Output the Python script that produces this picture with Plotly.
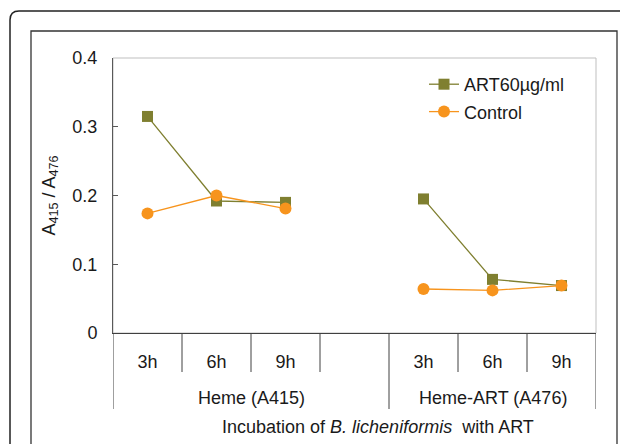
import plotly.graph_objects as go

# ---------------- data ----------------
groups = ["Heme (A415)", "Heme-ART (A476)"]
times = ["3h", "6h", "9h"]
art_heme = [0.315, 0.192, 0.190]
art_hemeart = [0.195, 0.078, 0.069]
ctrl_heme = [0.174, 0.200, 0.181]
ctrl_hemeart = [0.064, 0.062, 0.069]
y_ticks = [0, 0.1, 0.2, 0.3, 0.4]
y_ticklabels = ["0", "0.1", "0.2", "0.3", "0.4"]

# category slots: group1 times, an empty gap slot, group2 times
cats = [groups[0] + "|" + t for t in times] + ["gap"] + [groups[1] + "|" + t for t in times]
label_cats = [c for c in cats if c != "gap"]
label_text = times + times
art_vals = art_heme + [None] + art_hemeart
ctrl_vals = ctrl_heme + [None] + ctrl_hemeart

# ---------------- geometry helpers ----------------
# the page body has an 8px margin, so the figure sits 8px in from the window corner
O = 8
W, H = 628 - O, 444 - O
# plot area in window pixels
L, R, T, B = 113, 596, 58, 333
PW, PH = R - L, B - T


def px(x):
    return (x - L) / PW


def py(y):
    return (B - y) / PH


FONT = "Liberation Sans, Arial, sans-serif"
FS = 18
TXT = "#1a1a1a"
OLIVE = "#7F7F30"
ORANGE = "#F7941D"

fig = go.Figure()
fig.add_trace(go.Scatter(
    x=cats, y=art_vals, name="ART60µg/ml", mode="lines+markers",
    line=dict(color=OLIVE, width=1.3),
    marker=dict(symbol="square", size=11, color=OLIVE),
    connectgaps=False, legendgroup="a",
))
fig.add_trace(go.Scatter(
    x=cats, y=ctrl_vals, name="Control", mode="lines+markers",
    line=dict(color=ORANGE, width=1.3),
    marker=dict(symbol="circle", size=12, color=ORANGE),
    connectgaps=False, legendgroup="b",
))

shapes = []


def rounded_path(x0, y0, x1, y1, r):
    pts = [
        ("M", [(x0, y0 + r)]),
        ("Q", [(x0, y0), (x0 + r, y0)]),
        ("L", [(x1 - r, y0)]),
        ("Q", [(x1, y0), (x1, y0 + r)]),
        ("L", [(x1, y1 - r)]),
        ("Q", [(x1, y1), (x1 - r, y1)]),
        ("L", [(x0 + r, y1)]),
        ("Q", [(x0, y1), (x0, y1 - r)]),
    ]
    s = ""
    for cmd, ps in pts:
        s += cmd + " " + " ".join(f"{px(a):.5f},{py(b):.5f}" for a, b in ps) + " "
    return s + "Z"


# outer rounded frame
shapes.append(dict(type="path", xref="paper", yref="paper",
                   path=rounded_path(10, 11, 629, 470, 9),
                   line=dict(color="#222222", width=1.5)))
# inner frame
shapes.append(dict(type="rect", xref="paper", yref="paper",
                   x0=px(31), y0=py(470), x1=px(617), y1=py(31),
                   line=dict(color="#333333", width=1.3)))
# plot area border (light gray)
shapes.append(dict(type="rect", xref="paper", yref="paper",
                   x0=0, y0=0, x1=1, y1=1, layer="below",
                   line=dict(color="#BFBFBF", width=1)))

# category dividers
n = len(cats)
gap_idx = cats.index("gap")
long_bounds = [-0.5, gap_idx + 0.5, n - 0.5]
for i in range(n + 1):
    b = i - 0.5
    is_long = b in long_bounds
    shapes.append(dict(type="line", xref="x", yref="paper",
                       x0=b, x1=b, y0=0, y1=py(409 if is_long else 372),
                       line=dict(color="#404040", width=1)))

annotations = []
# group labels
annotations.append(dict(x=(-0.5 + gap_idx + 0.5) / 2, y=py(398), xref="x", yref="paper",
                        text=groups[0], showarrow=False, yanchor="middle",
                        font=dict(family=FONT, size=FS, color=TXT)))
annotations.append(dict(x=(gap_idx + 0.5 + n - 0.5) / 2, y=py(398), xref="x", yref="paper",
                        text=groups[1], showarrow=False, yanchor="middle",
                        font=dict(family=FONT, size=FS, color=TXT)))
# x title
annotations.append(dict(x=px(378), y=py(427), xref="paper", yref="paper",
                        text="Incubation of <i>B. licheniformis</i>\u00a0 with ART",
                        showarrow=False, yanchor="middle", xanchor="center",
                        font=dict(family=FONT, size=FS, color=TXT)))
# y title
annotations.append(dict(x=px(50), y=0.5, xref="paper", yref="paper",
                        text="A<sub>415</sub> / A<sub>476</sub>", textangle=-90,
                        showarrow=False, xanchor="center", yanchor="middle",
                        font=dict(family=FONT, size=FS, color=TXT)))

fig.update_layout(
    width=W, height=H, autosize=False,
    margin=dict(l=L - O, r=W - (R - O), t=T - O, b=H - (B - O), pad=0),
    paper_bgcolor="white", plot_bgcolor="white",
    font=dict(family=FONT, size=FS, color=TXT),
    showlegend=True,
    legend=dict(x=px(424), y=py(66), xanchor="left", yanchor="top",
                bgcolor="rgba(0,0,0,0)", font=dict(family=FONT, size=FS, color=TXT),
                traceorder="grouped", tracegroupgap=1),
    shapes=shapes, annotations=annotations,
    xaxis=dict(type="category", categoryarray=cats, categoryorder="array",
               tickmode="array", tickvals=label_cats, ticktext=label_text,
               range=[-0.5, n - 0.5], showgrid=False, zeroline=False,
               showline=True, linecolor="#404040", linewidth=1,
               ticks="", ticklabelstandoff=12,
               tickfont=dict(family=FONT, size=FS, color=TXT)),
    yaxis=dict(range=[0, 0.4], tickmode="array", tickvals=y_ticks, ticktext=y_ticklabels,
               showgrid=False, zeroline=False, showline=True,
               linecolor="#595959", linewidth=1,
               ticks="inside", ticklen=5, tickcolor="#595959",
               ticklabelstandoff=11,
               tickfont=dict(family=FONT, size=FS, color=TXT)),
)

fig.write_html("out.html")
